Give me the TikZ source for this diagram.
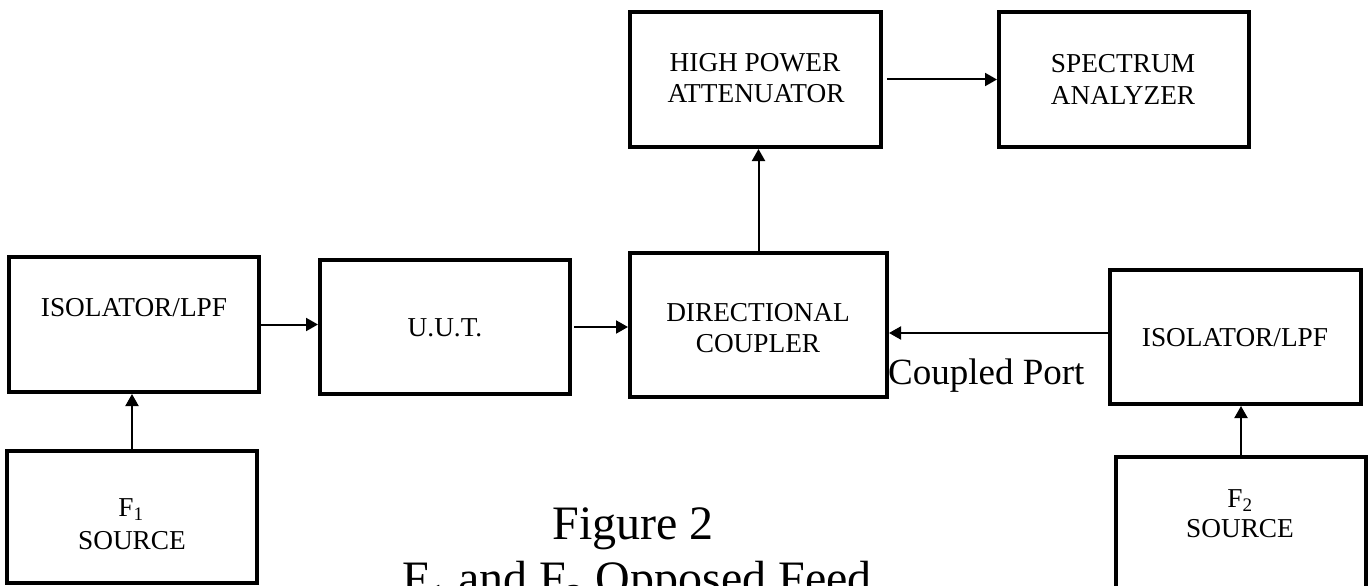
\documentclass[tikz,border=0pt]{standalone}
\usepackage{fontspec}
\setmainfont{Liberation Serif}
\usetikzlibrary{arrows.meta}
\begin{document}
\begin{tikzpicture}[x=1pt,y=-1pt,
  blk/.style={draw=black,line width=4pt,rectangle,inner sep=0pt,fill=white},
  lbl/.style={anchor=base,inner sep=0pt,font=\fontsize{27.3}{31}\selectfont},
  conn/.style={line width=2pt,-{Triangle[length=12pt,width=13pt]}}]
\useasboundingbox[fill=white] (0,0) rectangle (1371,586);
% boxes
\node[blk,minimum width=250pt,minimum height=135pt] (iso1) at (134,324.5) {};
\node[blk,minimum width=250pt,minimum height=132pt] (f1) at (132,517) {};
\node[blk,minimum width=250pt,minimum height=134pt] (uut) at (445,327) {};
\node[blk,minimum width=257pt,minimum height=144pt] (dc) at (758.5,325) {};
\node[blk,minimum width=251pt,minimum height=135pt] (hpa) at (755.5,79.5) {};
\node[blk,minimum width=250pt,minimum height=135pt] (sa) at (1124,79.5) {};
\node[blk,minimum width=251pt,minimum height=134pt] (iso2) at (1235.5,337) {};
\node[blk,minimum width=250pt,minimum height=135pt] (f2) at (1241,524.5) {};
% labels
\node[lbl] (t1) at (134,316.5) {ISOLATOR/LPF};
\node[lbl] (t2) at (445,336) {U.U.T.};
\node[lbl] (t3) at (755,72) {HIGH POWER};
\node[lbl] (t4) at (756,102.5) {ATTENUATOR};
\node[lbl] (t5) at (1123,73) {SPECTRUM};
\node[lbl] (t6) at (1123,104) {ANALYZER};
\node[lbl] (t7) at (758,321.5) {DIRECTIONAL};
\node[lbl] (t8) at (758,352) {COUPLER};
\node[lbl] (t9) at (1235,346) {ISOLATOR/LPF};
\node[lbl] (t10) at (131,516) {F\textsubscript{1}};
\node[lbl] (t11) at (132,549) {SOURCE};
\node[lbl] (t12) at (1240,507) {F\textsubscript{2}};
\node[lbl] (t13) at (1240,537) {SOURCE};
\node[anchor=base west,inner sep=0pt,font=\fontsize{37}{44}\selectfont] (cp) at (888,384) {Coupled Port};
\node[anchor=base,inner sep=0pt,font=\fontsize{48}{56}\selectfont] (cap1) at (633,539) {Figure 2};
\node[anchor=base,inner sep=0pt,font=\fontsize{48}{56}\selectfont] (cap2) at (637,594) {F\textsubscript{1} and F\textsubscript{2} Opposed Feed};
% connectors
\coordinate (iso2in) at ([yshift=4pt]iso2.west);
\draw[conn] (f1.north) -- (f1.north |- iso1.south);
\draw[conn] (iso1.east) -- (uut.west |- iso1.east);
\draw[conn,shorten <=2pt] (uut.east) -- (dc.west |- uut.east);
\draw[conn] (dc.north) -- (dc.north |- hpa.south);
\draw[conn,shorten <=4pt] (hpa.east) -- (sa.west |- hpa.east);
\draw[conn] (iso2in) -- (dc.east |- iso2in);
\draw[conn] (f2.north) -- (f2.north |- iso2.south);
\end{tikzpicture}
\end{document}
